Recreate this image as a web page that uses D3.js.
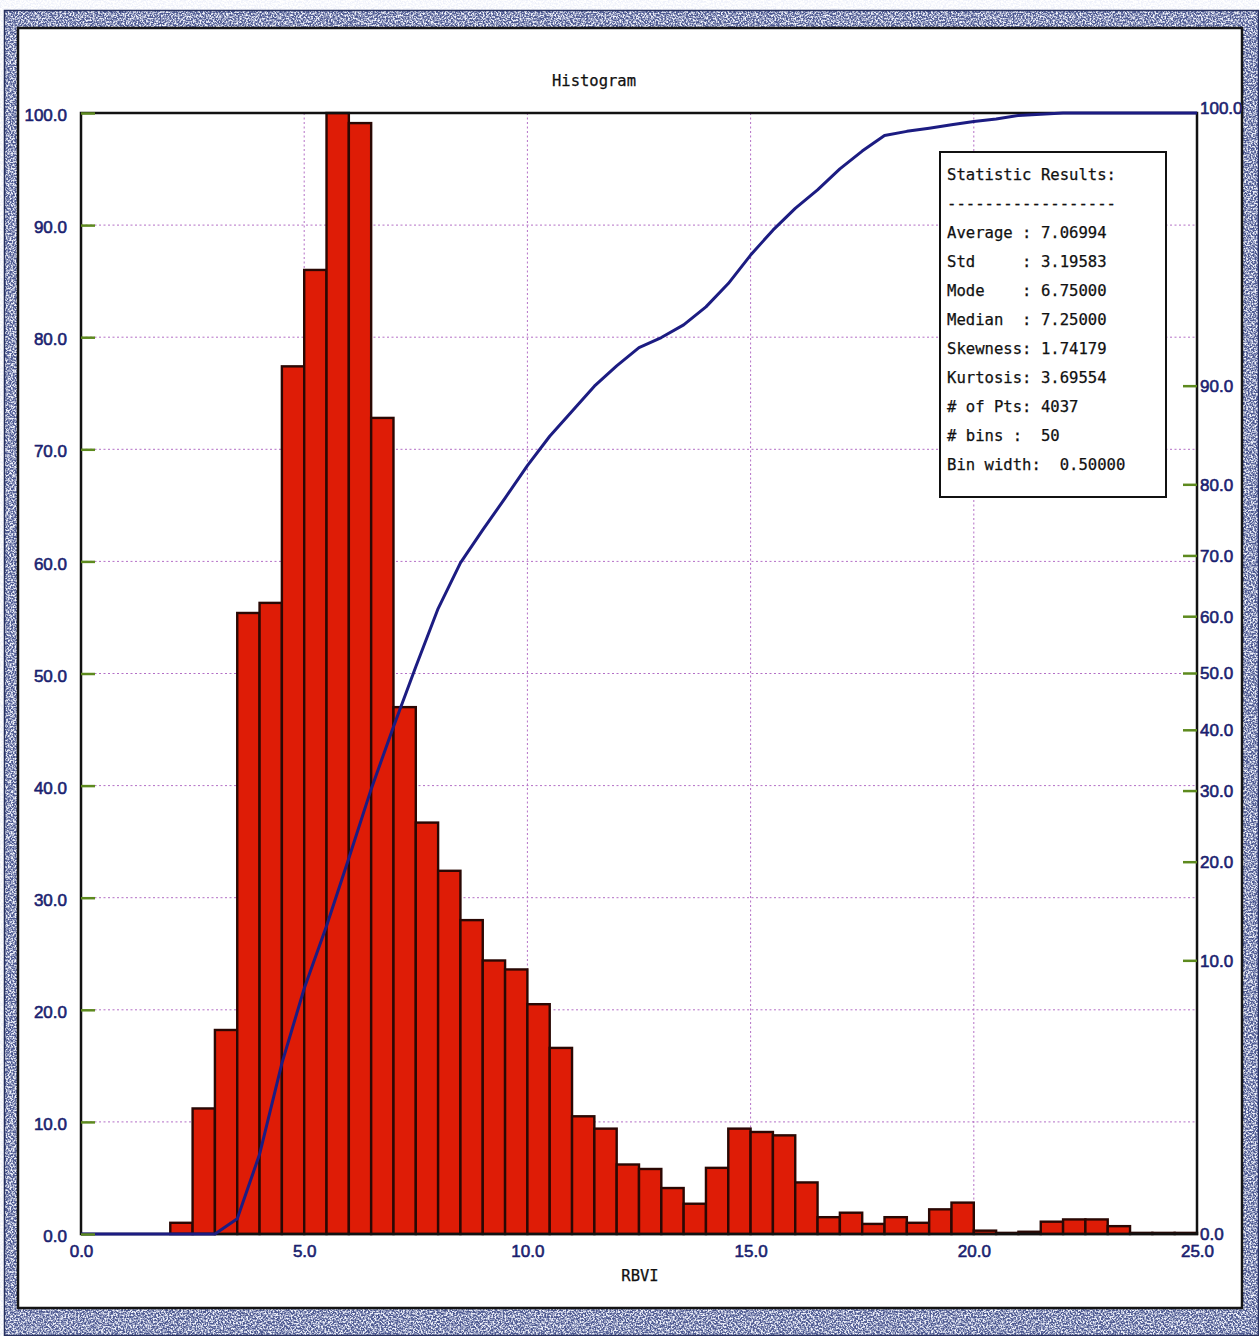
<!DOCTYPE html>
<html>
<head>
<meta charset="utf-8">
<title>Histogram - RBVI</title>
<script src="https://cdn.jsdelivr.net/npm/d3@7"></script>
<style>
  html, body { margin: 0; padding: 0; background: #ffffff; }
  svg { display: block; }
  .mono { font-family: "DejaVu Sans Mono", "Liberation Mono", monospace; white-space: pre; stroke: #111; stroke-width: 0.25px; }
  .tick-label { font-family: "Liberation Sans", Arial, sans-serif; font-size: 17px; fill: #1b1f70; stroke: #1b1f70; stroke-width: 0.6px; }
</style>
</head>
<body>
<svg id="chart" width="1259" height="1336"></svg>
<script>
// ---- data -------------------------------------------------------------
// left edge of each RBVI bin (bin width 0.5)
const binStarts = [
  0.0, 0.5, 1.0, 1.5, 2.0, 2.5, 3.0, 3.5, 4.0, 4.5,
  5.0, 5.5, 6.0, 6.5, 7.0, 7.5, 8.0, 8.5, 9.0, 9.5,
  10.0, 10.5, 11.0, 11.5, 12.0, 12.5, 13.0, 13.5, 14.0, 14.5,
  15.0, 15.5, 16.0, 16.5, 17.0, 17.5, 18.0, 18.5, 19.0, 19.5,
  20.0, 20.5, 21.0, 21.5, 22.0, 22.5, 23.0, 23.5, 24.0, 24.5
];
// bin frequency, scaled so the tallest bin is 100
const binFreq = [
  0, 0, 0, 0, 1.0, 11.2, 18.2, 55.4, 56.3, 77.4,
  86.0, 100.0, 99.1, 72.8, 47.0, 36.7, 32.4, 28.0, 24.4, 23.6,
  20.5, 16.6, 10.5, 9.4, 6.2, 5.8, 4.1, 2.7, 5.9, 9.4,
  9.1, 8.8, 4.6, 1.5, 1.9, 0.9, 1.5, 1.0, 2.2, 2.8,
  0.3, 0.1, 0.2, 1.1, 1.3, 1.3, 0.7, 0.1, 0.1, 0.1
];
// cumulative distribution (%) at bin edges
const cumX = [
  0.0, 0.5, 1.0, 1.5, 2.0, 2.5, 3.0, 3.5, 4.0, 4.5,
  5.0, 5.5, 6.0, 6.5, 7.0, 7.5, 8.0, 8.5, 9.0, 9.5,
  10.0, 10.5, 11.0, 11.5, 12.0, 12.5, 13.0, 13.5, 14.0, 14.5,
  15.0, 15.5, 16.0, 16.5, 17.0, 17.5, 18.0, 18.5, 19.0, 19.5,
  20.0, 20.5, 21.0, 21.5, 22.0, 22.5, 23.0, 23.5, 24.0, 24.5, 25.0
];
const cumPct = [
  0, 0, 0, 0, 0, 0, 0.6, 0.75, 1.6, 4.1,
  8.0, 13.0, 20.5, 30.3, 40.6, 51.2, 61.4, 68.9, 73.9, 78.3,
  82.3, 85.5, 87.9, 90.0, 91.5, 92.7, 93.3, 94.0, 94.9, 95.9,
  96.9, 97.6, 98.1, 98.45, 98.78, 99.01, 99.18, 99.22, 99.25, 99.28,
  99.31, 99.33, 99.36, 99.37, 99.6, 99.7, 99.8, 100, 100, 100, 100
];
const binWidth = 0.5;

const xTicks = [0, 5, 10, 15, 20, 25];
const leftTicks = [0, 10, 20, 30, 40, 50, 60, 70, 80, 90, 100];
const rightTicks = [0, 10, 20, 30, 40, 50, 60, 70, 80, 90, 100];

const chartTitle = "Histogram";
const xTitle = "RBVI";
const statLines = [
  "Statistic Results:",
  "------------------",
  "Average : 7.06994",
  "Std     : 3.19583",
  "Mode    : 6.75000",
  "Median  : 7.25000",
  "Skewness: 1.74179",
  "Kurtosis: 3.69554",
  "# of Pts: 4037",
  "# bins :  50",
  "Bin width:  0.50000"
];

// ---- layout -----------------------------------------------------------
const W = 1259, H = 1336;
const P = { left: 81, right: 1197, top: 113, bottom: 1234 };

const svg = d3.select("#chart");

// inverse of the standard normal CDF (Acklam's rational approximation)
function probit(p) {
  const a = [-3.969683028665376e+01, 2.209460984245205e+02, -2.759285104469687e+02,
             1.383577518672690e+02, -3.066479806614716e+01, 2.506628277459239e+00];
  const b = [-5.447609879822406e+01, 1.615858368580409e+02, -1.556989798598866e+02,
             6.680131188771972e+01, -1.328068155288572e+01];
  const c = [-7.784894002430293e-03, -3.223964580411365e-01, -2.400758277161838e+00,
             -2.549732539343734e+00, 4.374664141464968e+00, 2.938163982698783e+00];
  const d = [7.784695709041462e-03, 3.224671290700398e-01, 2.445134137142996e+00,
             3.754408661907416e+00];
  const pl = 0.02425, ph = 1 - pl;
  if (p < pl) {
    const q = Math.sqrt(-2 * Math.log(p));
    return (((((c[0]*q+c[1])*q+c[2])*q+c[3])*q+c[4])*q+c[5]) /
           ((((d[0]*q+d[1])*q+d[2])*q+d[3])*q+1);
  }
  if (p <= ph) {
    const q = p - 0.5, r = q * q;
    return (((((a[0]*r+a[1])*r+a[2])*r+a[3])*r+a[4])*r+a[5])*q /
           (((((b[0]*r+b[1])*r+b[2])*r+b[3])*r+b[4])*r+1);
  }
  const q = Math.sqrt(-2 * Math.log(1 - p));
  return -(((((c[0]*q+c[1])*q+c[2])*q+c[3])*q+c[4])*q+c[5]) /
          ((((d[0]*q+d[1])*q+d[2])*q+d[3])*q+1);
}

const x = d3.scaleLinear().domain([0, 25]).range([P.left, P.right]);
const y = d3.scaleLinear().domain([0, 100]).range([P.bottom, P.top]);
// cumulative axis: normal-probability scale, +/-2.5 sigma across the plot
const z = d3.scaleLinear().domain([-2.5, 2.5]).range([P.bottom, P.top]).clamp(true);
const yCum = pct => z(probit(Math.min(Math.max(pct / 100, 1e-7), 1 - 1e-7)));

// ---- textured frame ---------------------------------------------------
const defs = svg.append("defs");
const grain = defs.append("filter").attr("id", "grain")
  .attr("filterUnits", "userSpaceOnUse")
  .attr("x", 0).attr("y", 0).attr("width", W).attr("height", H);
grain.append("feTurbulence").attr("type", "fractalNoise")
  .attr("baseFrequency", 0.6).attr("numOctaves", 2).attr("seed", 7).attr("result", "n");
grain.append("feColorMatrix").attr("in", "n").attr("type", "matrix")
  .attr("values", "0 0 0 0 0.86  0 0 0 0 0.88  0 0 0 0 0.96  3.6 0 0 0 -1.4");

svg.append("rect").attr("x", 0).attr("y", 0).attr("width", W).attr("height", H).attr("fill", "#ffffff");
svg.append("rect").attr("x", 4).attr("y", 10).attr("width", W - 4).attr("height", H - 10)
  .attr("fill", "#4e5a92");
svg.append("rect").attr("x", 4).attr("y", 10).attr("width", W - 4).attr("height", H - 10)
  .attr("fill", "#ffffff").attr("filter", "url(#grain)");
svg.append("rect").attr("x", 4.5).attr("y", 10.5).attr("width", W - 5).attr("height", H - 11)
  .attr("fill", "none").attr("stroke", "#27305e").attr("stroke-width", 1.5);
svg.append("rect").attr("x", 18).attr("y", 28).attr("width", 1224).attr("height", 1280)
  .attr("fill", "#ffffff").attr("stroke", "#141414").attr("stroke-width", 2.5);

// ---- gridlines --------------------------------------------------------
const grid = svg.append("g").attr("stroke", "#a14cb8").attr("stroke-width", 1)
  .attr("stroke-dasharray", "2 2.5").attr("opacity", 0.8);
grid.selectAll("line.h").data(leftTicks.filter(v => v > 0 && v < 100)).join("line")
  .attr("class", "h").attr("x1", P.left).attr("x2", P.right)
  .attr("y1", d => y(d)).attr("y2", d => y(d));
grid.selectAll("line.v").data(xTicks.filter(v => v > 0 && v < 25)).join("line")
  .attr("class", "v").attr("y1", P.top).attr("y2", P.bottom)
  .attr("x1", d => x(d)).attr("x2", d => x(d));

// ---- histogram bars ---------------------------------------------------
const bins = binStarts.map((s, i) => ({ x0: s, x1: s + binWidth, v: binFreq[i] }))
  .filter(b => b.v > 0);
svg.append("g").selectAll("rect").data(bins).join("rect")
  .attr("x", d => x(d.x0)).attr("width", d => x(d.x1) - x(d.x0))
  .attr("y", d => y(d.v)).attr("height", d => y(0) - y(d.v))
  .attr("fill", "#de1c06").attr("stroke", "#2a0804").attr("stroke-width", 2.4);

// ---- plot frame -------------------------------------------------------
svg.append("rect").attr("x", P.left).attr("y", P.top)
  .attr("width", P.right - P.left).attr("height", P.bottom - P.top)
  .attr("fill", "none").attr("stroke", "#111111").attr("stroke-width", 2.5);

// ---- cumulative curve -------------------------------------------------
const cumLine = d3.line().x(d => x(d[0])).y(d => yCum(d[1]));
svg.append("path").datum(cumX.map((v, i) => [v, cumPct[i]]))
  .attr("d", cumLine).attr("fill", "none")
  .attr("stroke", "#1c1c82").attr("stroke-width", 3).attr("stroke-linejoin", "round");

// ---- axes -------------------------------------------------------------
const fmt = d3.format(".1f");

const leftAxis = svg.append("g").attr("transform", `translate(${P.left},0)`)
  .call(d3.axisLeft(y).tickValues(leftTicks).tickFormat(fmt).tickSizeInner(-14).tickSizeOuter(0).tickPadding(14));
leftAxis.select(".domain").remove();
leftAxis.selectAll(".tick line").attr("stroke", "#5d8a1e").attr("stroke-width", 2.5);
leftAxis.selectAll(".tick text").attr("class", "tick-label").attr("dy", "0.45em");

const bottomAxis = svg.append("g").attr("transform", `translate(0,${P.bottom})`)
  .call(d3.axisBottom(x).tickValues(xTicks).tickFormat(fmt).tickSize(0).tickPadding(11));
bottomAxis.select(".domain").remove();
bottomAxis.selectAll(".tick text").attr("class", "tick-label");

// right (cumulative %) axis on the probability scale
const right = svg.append("g");
right.selectAll("line").data(rightTicks.filter(v => v > 0 && v < 100)).join("line")
  .attr("x1", P.right - 14).attr("x2", P.right)
  .attr("y1", d => yCum(d)).attr("y2", d => yCum(d))
  .attr("stroke", "#5d8a1e").attr("stroke-width", 2.5);
right.selectAll("text").data(rightTicks).join("text")
  .attr("class", "tick-label")
  .attr("x", P.right + 3).attr("y", d => yCum(d))
  .attr("dy", d => d === 100 ? "0.05em" : "0.35em")
  .text(d => fmt(d));

// ---- titles -----------------------------------------------------------
svg.append("text").attr("class", "mono").attr("x", 594).attr("y", 86)
  .attr("text-anchor", "middle").attr("font-size", 15.5).attr("fill", "#111").text(chartTitle);
svg.append("text").attr("class", "mono").attr("x", 640).attr("y", 1281)
  .attr("text-anchor", "middle").attr("font-size", 15.5).attr("fill", "#111").text(xTitle);

// ---- statistics box ---------------------------------------------------
const box = svg.append("g");
box.append("rect").attr("x", 940).attr("y", 152).attr("width", 226).attr("height", 345)
  .attr("fill", "#ffffff").attr("stroke", "#111111").attr("stroke-width", 2);
box.selectAll("text").data(statLines).join("text")
  .attr("class", "mono").attr("xml:space", "preserve")
  .attr("x", 947).attr("y", (d, i) => 180 + i * 29)
  .attr("font-size", 15.6).attr("fill", "#111")
  .text(d => d);
</script>
</body>
</html>
